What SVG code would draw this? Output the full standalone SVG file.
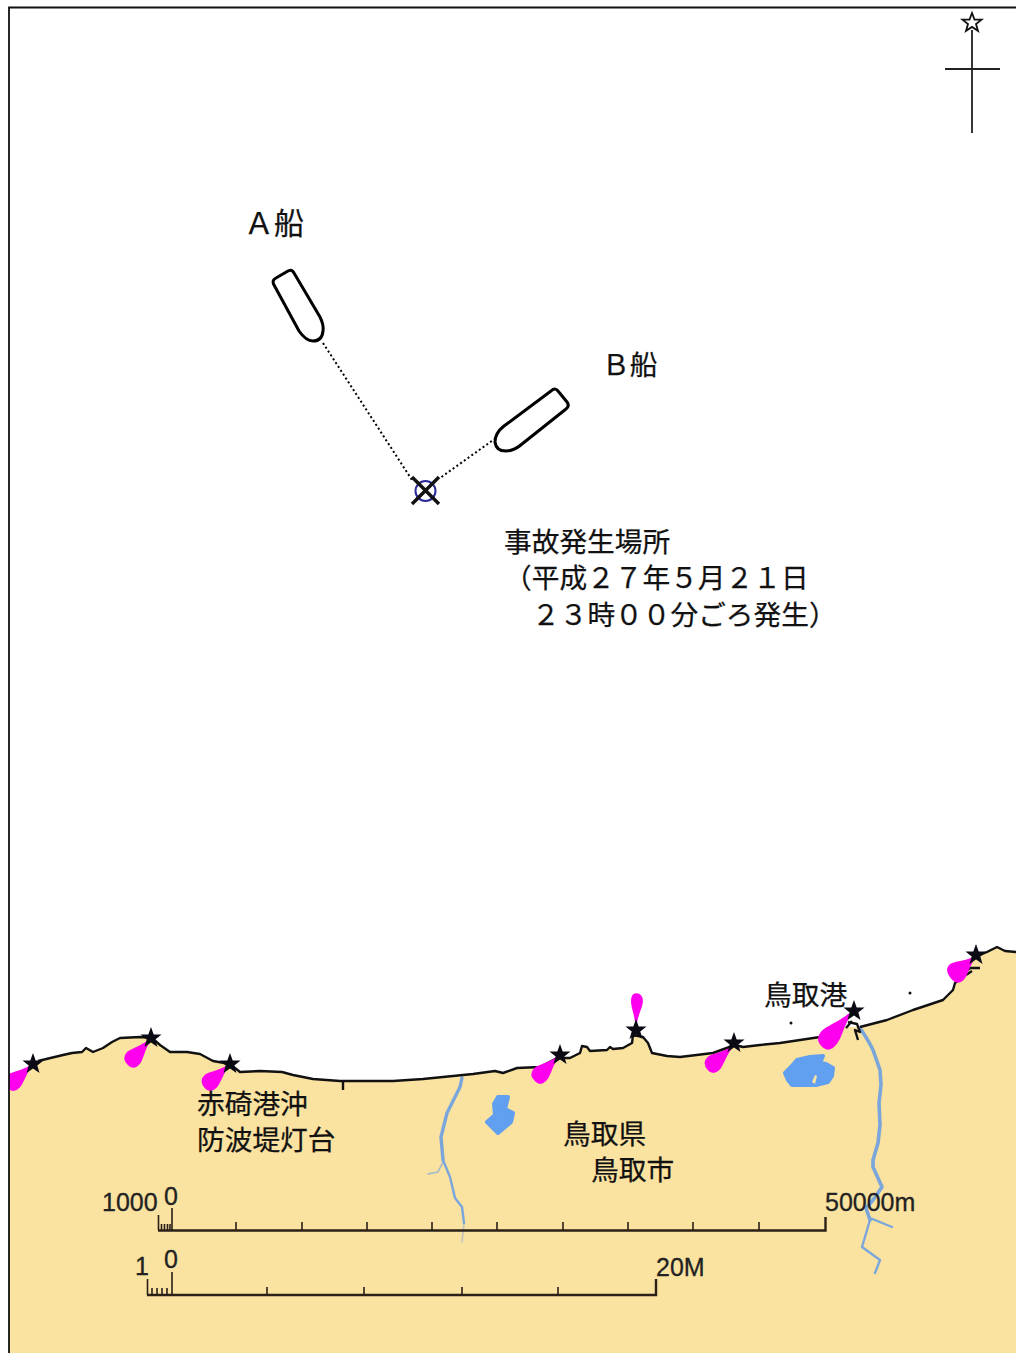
<svg xmlns="http://www.w3.org/2000/svg" width="1016" height="1353" viewBox="0 0 1016 1353">
<defs>
<style>
.t{font-family:"Noto Sans CJK JP","Liberation Sans",sans-serif;font-size:27.7px;fill:#111;stroke:#111;stroke-width:.25}
.n{font-family:"Liberation Sans",Arial,sans-serif;font-size:25px;fill:#222;stroke:#222;stroke-width:.3}
.ship{fill:#fff;stroke:#000;stroke-width:3;stroke-linejoin:round}
.dot{fill:none;stroke:#000;stroke-width:2;stroke-dasharray:2 2.6}
.coast{fill:none;stroke:#111;stroke-width:2.4;stroke-linejoin:round}
.riv{fill:none;stroke:#7ba6dc;stroke-linejoin:round;stroke-linecap:round}
.lake{fill:#619ff0;stroke:#619ff0;stroke-width:4;stroke-linejoin:round}
.sc{fill:none;stroke:#2a2018;stroke-width:1.6}
.sc2{fill:none;stroke:#2a2018;stroke-width:2.4}
</style>
<clipPath id="map"><rect x="9" y="7" width="1007" height="1346"/></clipPath>
<path id="sector" fill="#ff00ee" d="M0,-1 C10,-3 17,-8 23,-8.500 Q32,-9 32,-1 Q32,9 23,9 C17,8 10,3 0,1 Z"/>
<polygon id="star" fill="#0a0a14" points="0,-11 2.7,-3.6 10.5,-3.4 4.3,1.4 6.5,8.9 0,4.5 -6.5,8.9 -4.3,1.4 -10.5,-3.4 -2.7,-3.6"/>
</defs>
<rect width="1016" height="1353" fill="#fff"/>
<g id="land">
<path fill="#fae2a0" d="M9,1090 L9,1078 L38,1061 L63,1055 L72,1053 L82,1052 L86,1048 L93,1052 L103,1048 L112,1042 L120,1038 L140,1037 L152,1038 L160,1045 L170,1052 L187,1052 L200,1054 L213,1061 L230,1064 L240,1072 L260,1071 L282,1072 L293,1075 L313,1079 L340,1081 L360,1081 L393,1081 L423,1079 L453,1076 L473,1074 L495,1071 L503,1073 L517,1068 L540,1067 L557,1058 L570,1058 L580,1053 L582,1046 L587,1047 L590,1051 L607,1050 L610,1047 L613,1049 L623,1048 L632,1043 L633,1035 L643,1037 L648,1043 L652,1053 L667,1056 L680,1057 L713,1053 L735,1045 L743,1047 L760,1045 L780,1043 L820,1037 L847,1027 L860,1027 L887,1020 L913,1010 L943,1000 L953,990 L955,983 L967,973 L973,958 L987,952 L997,947 L1005,951 L1016,952 L1016,1353 L9,1353 Z"/>
</g>
<g id="water">
<path class="riv" stroke-width="3.400" d="M462,1078 L460,1087 L447,1113 L441,1137 L443,1160"/>
<path class="riv" stroke-width="2.400" d="M443,1160 L450,1177 L455,1198 L462,1207 L464,1223"/>
<path class="riv" stroke-width="1.500" opacity=".5" d="M464,1223 L462,1242"/>
<path class="riv" stroke-width="1.600" opacity=".7" d="M443,1162 L438,1172 L428,1174"/>
<path class="riv" stroke-width="3.600" d="M860,1028 Q870,1043 873,1050 L880,1070 L881,1085 L879,1103 L880,1125 L878,1143 L873,1160 L873,1167 L882,1187 L873,1200 L866,1208 L870,1220"/>
<path class="riv" stroke-width="2.400" d="M870,1218 L892,1227 M870,1220 L862,1247 L880,1260 L875,1273"/>
<path class="lake" d="M498,1097 L508,1097 L505,1109 L513,1113 L511,1122 L498,1133 L487,1122 L495,1115 L494,1104 Z"/>
<path class="lake" d="M785,1073 L791,1067 L797,1060 L810,1057 L823,1056 L820,1063 L826,1064 L833,1068 L832,1076 L828,1082 L816,1085 L808,1085 L800,1085 L792,1085 L788,1080 Z"/>
<path fill="#fae2a0" d="M812,1082 L815,1075 L817,1076 L815,1084 Z"/>
</g>
<g id="coastline">
<path class="coast" d="M38,1061 L63,1055 L72,1053 L82,1052 L86,1048 L93,1052 L103,1048 L112,1042 L120,1038 L140,1037 L152,1038 L160,1045 L170,1052 L187,1052 L200,1054 L213,1061 L230,1064 L240,1072 L260,1071 L282,1072 L293,1075 L313,1079 L340,1081 L360,1081 L393,1081 L423,1079 L453,1076 L473,1074 L495,1071 L503,1073 L517,1068 L540,1067 L557,1058 L570,1058 L580,1053 L582,1046 L587,1047 L590,1051 L607,1050 L610,1047 L613,1049 L623,1048 L632,1043 L633,1035 L643,1037 L648,1043 L652,1053 L667,1056 L680,1057 L713,1053 L735,1045 L743,1047 L760,1045 L780,1043 L820,1037"/>
<path class="coast" d="M860,1027 L887,1020 L913,1010 L943,1000 L953,990 L955,983 L967,973 M973,958 L987,952 L997,947 L1005,951 L1016,952"/>
<path class="coast" d="M343,1081 V1090"/>
<path class="coast" stroke-width="1.600" d="M848,1022 L857,1024 L860,1032 L855,1030 L858,1040 M846,1028 L852,1021 M962,975 L970,968 L980,968 M966,975 L972,971"/>
<circle cx="791" cy="1023" r="1.500" fill="#111"/>
<circle cx="910" cy="993" r="1.500" fill="#111"/>
</g>
<g id="sectors" clip-path="url(#map)">
<use href="#sector" transform="translate(31,1066) rotate(138)"/>
<use href="#sector" transform="translate(149,1041) rotate(132)"/>
<use href="#sector" transform="translate(228,1066) rotate(138)"/>
<use href="#sector" transform="translate(557,1058) rotate(135)"/>
<use href="#sector" transform="translate(636,1024) rotate(-88) scale(.96,.68)"/>
<use href="#sector" transform="translate(731,1048) rotate(138)"/>
<use href="#sector" transform="translate(850,1014) rotate(131) scale(1.350,1.150)"/>
<use href="#sector" transform="translate(974,958) rotate(140) scale(.96,1.200)"/>
</g>
<g id="lights">
<use href="#star" x="33" y="1064"/>
<use href="#star" x="151" y="1038"/>
<use href="#star" x="230" y="1064"/>
<use href="#star" x="560" y="1055"/>
<use href="#star" x="636" y="1030"/>
<use href="#star" x="734" y="1043"/>
<use href="#star" x="854" y="1011"/>
<use href="#star" x="976" y="955"/>
</g>
<g id="frame" fill="none" stroke="#111" stroke-width="1.800">
<path d="M9,1353 V7.500 H1016"/>
</g>
<g id="north-mark">
<path d="M972,30 V133 M945,69 H1000" fill="none" stroke="#222" stroke-width="1.800"/>
<polygon fill="#fff" stroke="#111" stroke-width="1.800" points="972,13 974.500,19.500 981.500,19.700 976,24 978,30.800 972,26.900 966,30.800 968,24 962.500,19.700 969.500,19.500"/>
</g>
<g id="connectors">
<path class="dot" d="M323,343 L412,480"/>
<path class="dot" d="M503,433 L440,478"/>
</g>
<g id="ship-a">
<path class="ship" d="M273.500,284 Q272,280 276,278 L288,271 Q292,269 294,273 L320,317 Q324,325 323,331 Q322,341 313,341 Q306,341 299,331 Z"/>
<text x="244" y="234" class="t" style="font-size:30px">Ａ船</text>
</g>
<g id="ship-b">
<path class="ship" d="M551,391 Q555,387 558,391 L567,402 Q570,406 566,409 L522,444 Q514,451 506,451 Q496,451 495,442 Q495,433 504,426 Z"/>
<text class="t" x="602" y="375">Ｂ船</text>
</g>
<g id="accident-site">
<circle cx="425.500" cy="491" r="10" fill="none" stroke="#2a2a9a" stroke-width="2"/>
<path d="M412,477 L439,504 M439,477 L412,504" stroke="#111" stroke-width="3.400" fill="none"/>
<text class="t" x="504" y="552">事故発生場所</text>
<text class="t" x="504" y="588">（平成２７年５月２１日</text>
<text class="t" x="532" y="625">２３時００分ごろ発生）</text>
</g>
<g id="label-akasaki">
<text class="t" x="197" y="1114">赤碕港沖</text>
<text class="t" x="197" y="1150">防波堤灯台</text>
</g>
<g id="label-tottori-port"><text class="t" x="764" y="1005">鳥取港</text></g>
<g id="label-tottori">
<text class="t" x="563" y="1144">鳥取県</text>
<text class="t" x="591" y="1180">鳥取市</text>
</g>
<g id="scale-metres">
<path class="sc2" d="M158,1230.500 H825.500 V1217"/>
<path class="sc" d="M172,1208 V1230 M158.500,1215 V1230 M161.500,1224 V1230 M164.500,1224 V1230 M167.500,1224 V1230 M170,1224 V1230 M236,1222 V1230 M302,1222 V1230 M367,1222 V1230 M432,1222 V1230 M497,1222 V1230 M563,1222 V1230 M628,1222 V1230 M693,1222 V1230 M759,1222 V1230"/>
<text class="n" x="102" y="1211">1000</text>
<text class="n" x="164" y="1205">0</text>
<text class="n" x="825" y="1211">50000m</text>
</g>
<g id="scale-miles">
<path class="sc2" d="M147,1295 H656 V1279"/>
<path class="sc" d="M172,1272 V1295 M147.500,1279 V1295 M152,1288 V1295 M157,1288 V1295 M162,1288 V1295 M167,1288 V1295 M267,1287 V1295 M364,1287 V1295 M462,1287 V1295 M558,1287 V1295"/>
<text class="n" x="135" y="1275">1</text>
<text class="n" x="164" y="1268">0</text>
<text class="n" x="656" y="1276">20M</text>
</g>
</svg>
